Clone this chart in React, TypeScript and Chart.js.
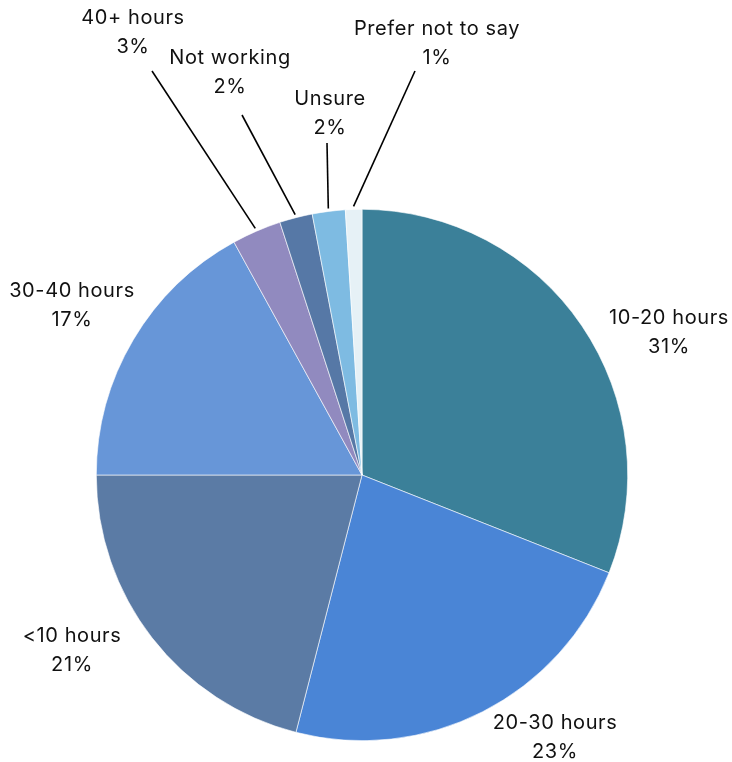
import React, { useEffect, useRef } from "react";
import { Chart, registerables } from "chart.js";

Chart.register(...registerables);

const categories = [
  "10-20 hours",
  "20-30 hours",
  "<10 hours",
  "30-40 hours",
  "40+ hours",
  "Not working",
  "Unsure",
  "Prefer not to say",
];
const values = [31, 23, 21, 17, 3, 2, 2, 1];
const colors = [
  "#3B8099",
  "#4A85D6",
  "#5B7BA5",
  "#6796D8",
  "#918ABF",
  "#5678A6",
  "#7EBBE2",
  "#E6F1F6",
];

// label layout: text block center, and optional leader-line start point
const labelCenters: [number, number][] = [
  [669, 332],
  [555, 737],
  [72, 650],
  [72, 305],
  [133, 32],
  [230, 72],
  [330, 113],
  [437, 43],
];
const leaderStarts: ([number, number] | null)[] = [
  null,
  null,
  null,
  null,
  [152, 71],
  [242, 115],
  [327, 143],
  [415, 71],
];

const FONT = '20px Inter, "Open Sans", sans-serif';

const labelPlugin = {
  id: "outLabels",
  afterDatasetsDraw(chart: any) {
    const ctx = chart.ctx;
    const meta = chart.getDatasetMeta(0);
    const total = values.reduce((a, b) => a + b, 0);
    ctx.save();
    meta.data.forEach((arc: any, i: number) => {
      const p = arc.getProps(["x", "y", "startAngle", "endAngle", "outerRadius"], true);
      const mid = (p.startAngle + p.endAngle) / 2;
      const ls = leaderStarts[i];
      if (ls) {
        const ex = p.x + Math.cos(mid) * (p.outerRadius + 3);
        const ey = p.y + Math.sin(mid) * (p.outerRadius + 3);
        ctx.beginPath();
        ctx.moveTo(ls[0], ls[1]);
        ctx.lineTo(ex, ey);
        ctx.strokeStyle = "#000";
        ctx.lineWidth = 1.6;
        ctx.stroke();
      }
      const [cx, cy] = labelCenters[i];
      ctx.fillStyle = "#111";
      ctx.font = FONT;
      try {
        (ctx as any).letterSpacing = "0.6px";
      } catch (e) {}
      ctx.textAlign = "center";
      ctx.textBaseline = "middle";
      const pct = Math.round((values[i] / total) * 100) + "%";
      ctx.fillText(categories[i], cx, cy - 14);
      ctx.fillText(pct, cx, cy + 15);
    });
    ctx.restore();
  },
};

export default function App() {
  const ref = useRef<HTMLCanvasElement>(null);
  useEffect(() => {
    document.body.style.margin = "0";
    const chart = new Chart(ref.current!, {
      type: "pie",
      data: {
        labels: categories,
        datasets: [
          {
            data: values,
            backgroundColor: colors,
            borderColor: "#ffffff",
            borderWidth: 0.6,
          },
        ],
      },
      options: {
        animation: false,
        responsive: false,
        maintainAspectRatio: false,
        layout: { padding: { left: 96, right: 104, top: 209, bottom: 21 } },
        plugins: {
          legend: { display: false },
          tooltip: { enabled: false },
        },
      },
      plugins: [labelPlugin],
    });
    return () => chart.destroy();
  }, []);
  return (
    <div style={{ width: 732, height: 762, background: "#fff" }}>
      <canvas ref={ref} width={732} height={762} style={{ display: "block" }} />
    </div>
  );
}
